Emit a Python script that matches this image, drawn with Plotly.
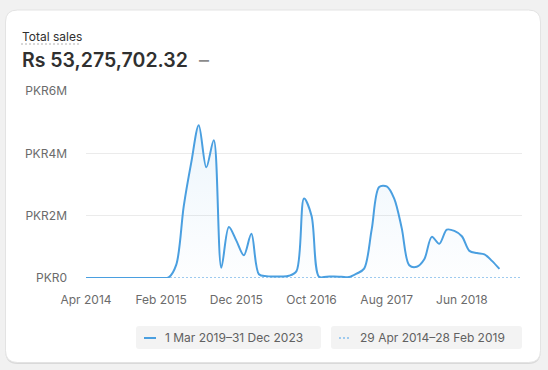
import pandas as pd
import plotly.graph_objects as go

# ---------------- data ----------------
months = [d.strftime("%b %Y") for d in pd.date_range("2014-04-01", "2019-02-01", freq="MS")]
sales_m = [0, 0, 0, 0, 0, 0, 0, 0, 0, 0, 0,
           0.02, 0.42, 2.30, 3.70, 4.90, 3.55, 4.42, 0.33, 1.64, 1.20,
           0.73, 1.42, 0.12, 0.06, 0.05, 0.05, 0.07, 0.22, 2.55, 2.00,
           0.04, 0.04, 0.05, 0.04, 0.03, 0.14, 0.30, 1.55, 2.92, 2.94,
           2.55, 1.60, 0.41, 0.36, 0.60, 1.32, 1.10, 1.55, 1.51, 1.34,
           0.87, 0.80, 0.76, 0.55, 0.29]
sales = [v * 1e6 for v in sales_m]
comparison = [0.0] * len(months)
tick_labels = ["Apr 2014", "Feb 2015", "Dec 2015", "Oct 2016", "Aug 2017", "Jun 2018"]
y_ticks = [0, 2e6, 4e6, 6e6]
y_tick_text = ["PKR0", "PKR2M", "PKR4M", "PKR6M"]
title_text = "Total sales"
total_text = "Rs 53,275,702.32"
legend_primary = "1 Mar 2019–31 Dec 2023"
legend_comparison = "29 Apr 2014–28 Feb 2019"

# ---------------- layout helpers ----------------
W, H = 548, 370
L, R, T, B = 86, 26, 91, 92
PW, PH = W - L - R, H - T - B
FONT = "Inter, Noto Sans, sans-serif"
BLUE = "#4a9fe0"
LIGHTBLUE = "#9fcbef"


def xp(px):
    return (px - L) / PW


def yp(py):
    return (H - B - py) / PH


def rrect(x0, y0, x1, y1, r):
    rx, ry = r / PW, r / PH
    a0, b0, a1, b1 = xp(x0), yp(y1), xp(x1), yp(y0)
    return (f"M {a0+rx},{b0} L {a1-rx},{b0} Q {a1},{b0} {a1},{b0+ry} "
            f"L {a1},{b1-ry} Q {a1},{b1} {a1-rx},{b1} L {a0+rx},{b1} "
            f"Q {a0},{b1} {a0},{b1-ry} L {a0},{b0+ry} Q {a0},{b0} {a0+rx},{b0} Z")


fig = go.Figure()

fig.add_trace(go.Scatter(
    x=months, y=comparison, mode="lines",
    line=dict(color=LIGHTBLUE, width=2, dash="2px,2px"),
    cliponaxis=False, hoverinfo="skip", showlegend=False))

fig.add_trace(go.Scatter(
    x=months[:len(sales)], y=sales, mode="lines",
    line=dict(color=BLUE, width=2, shape="spline", smoothing=0.9),
    fill="tozeroy",
    fillgradient=dict(type="vertical", start=0, stop=5e6,
                      colorscale=[[0, "rgba(74,159,224,0.01)"], [1, "rgba(74,159,224,0.10)"]]),
    cliponaxis=False, showlegend=False))

shapes = [
    dict(type="path", xref="paper", yref="paper", path=rrect(5.5, 11, 540.5, 364, 12),
         fillcolor="#d9d9d9", line=dict(width=0), layer="below"),
    dict(type="path", xref="paper", yref="paper", path=rrect(5.5, 10, 540.5, 362.5, 12),
         fillcolor="white", line=dict(color="#e3e3e3", width=1), layer="below"),
    # title underline
    dict(type="line", xref="paper", yref="paper", x0=xp(21), x1=xp(81), y0=yp(44), y1=yp(44),
         line=dict(color="#b0b0b0", width=1, dash="2px,2px")),
    # legend boxes
    dict(type="path", xref="paper", yref="paper", path=rrect(136, 326, 321, 349, 3),
         fillcolor="#f3f3f3", line=dict(width=0), layer="below"),
    dict(type="path", xref="paper", yref="paper", path=rrect(331, 326, 522, 349, 3),
         fillcolor="#f3f3f3", line=dict(width=0), layer="below"),
    dict(type="line", xref="paper", yref="paper", x0=xp(144), x1=xp(156), y0=yp(338), y1=yp(338),
         line=dict(color=BLUE, width=2)),
    dict(type="line", xref="paper", yref="paper", x0=xp(339), x1=xp(351), y0=yp(338), y1=yp(338),
         line=dict(color=LIGHTBLUE, width=2, dash="2px,2px")),
]

annotations = [
    dict(text=title_text, x=xp(20), y=yp(37), xref="paper", yref="paper", showarrow=False,
         xanchor="left", yanchor="middle", font=dict(family=FONT, size=12, color="#303030")),
    dict(text=total_text, x=xp(20), y=yp(60), xref="paper", yref="paper", showarrow=False,
         xanchor="left", yanchor="middle",
         font=dict(family=FONT, size=19.5, color="#303030", weight=600)),
    dict(text="–", x=xp(197), y=yp(60), xref="paper", yref="paper", showarrow=False,
         xanchor="left", yanchor="middle", font=dict(family=FONT, size=20, color="#8a8a8a")),
    dict(text=legend_primary, x=xp(163), y=yp(337.5), xref="paper", yref="paper", showarrow=False,
         xanchor="left", yanchor="middle", font=dict(family=FONT, size=12, color="#616161")),
    dict(text=legend_comparison, x=xp(358), y=yp(337.5), xref="paper", yref="paper", showarrow=False,
         xanchor="left", yanchor="middle", font=dict(family=FONT, size=12, color="#616161")),
]

fig.update_layout(
    width=W, height=H,
    margin=dict(l=L, r=R, t=T, b=B, pad=0),
    paper_bgcolor="#f1f1f1", plot_bgcolor="white",
    font=dict(family=FONT, size=12, color="#6b6b6b"),
    shapes=shapes, annotations=annotations,
    showlegend=False,
    xaxis=dict(type="category", categoryorder="array", categoryarray=months,
               range=[0, len(months) - 1], tickvals=tick_labels, ticktext=tick_labels,
               showgrid=False, zeroline=False, showline=False, ticks="",
               ticklabelstandoff=13, tickfont=dict(size=12, color="#6b6b6b")),
    yaxis=dict(range=[0, 6e6], tickvals=y_ticks, ticktext=y_tick_text,
               showgrid=True, gridcolor="#ebebeb", gridwidth=1, zeroline=False, showline=False,
               ticks="", ticklabelstandoff=18, tickfont=dict(size=12, color="#6b6b6b")),
)

fig.write_html("out.html")
